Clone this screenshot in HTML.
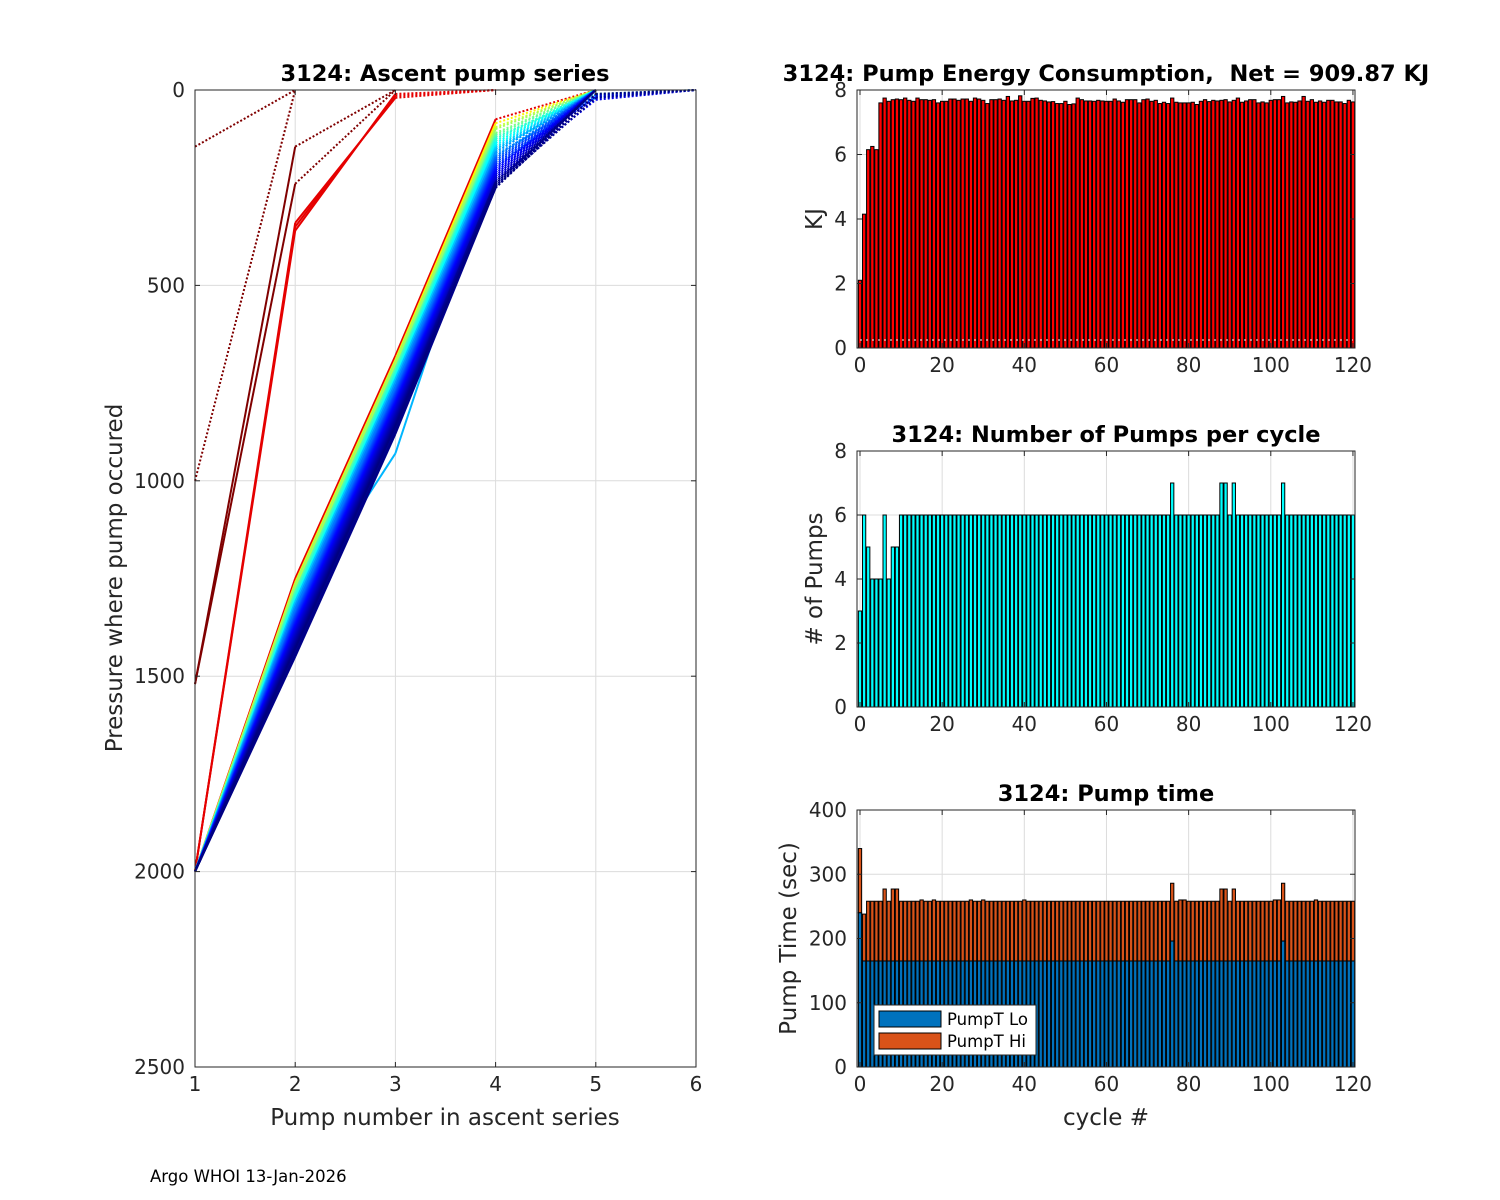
<!DOCTYPE html>
<html><head><meta charset="utf-8"><style>
html,body{margin:0;padding:0;background:#fff;}
svg{display:block;font-family:"DejaVu Sans","Liberation Sans",sans-serif;}
</style></head><body>
<svg id="fig" width="1500" height="1200" viewBox="0 0 1500 1200" xmlns="http://www.w3.org/2000/svg">
<rect x="0" y="0" width="1500" height="1200" fill="#fff"/>
<g id="left"></g><g id="energy"></g><g id="pumps"></g><g id="ptime"></g>
<text x="150" y="1182" font-size="16.5" fill="#000">Argo WHOI 13-Jan-2026</text>
</svg>
<script>
// ---------- data ----------
const earlyProfiles = [[145,0],[1000,0],[1520,145,0],[1520,240,0],[2000,340,20,0],[2000,360,10,0],[2000,350,15,0]];
const p2 = [1250,1260,1270,1265,1280,1290,1285,1300,1295,1310,1305,1320,1315,1330,1310,1325,1340,1335,1320,1345,1350,1330,1355,1340,1360,1345,1365,1350,1370,1355,1375,1360,1380,1365,1385,1370,1390,1375,1395,1380,1400,1385,1405,1390,1410,1395,1420,1400,1425,1405,1430,1410,1435,1415,1440,1420,1450,1425,1445,1430];
const p3 = [680,690,700,695,710,720,715,730,725,740,735,750,745,760,740,930,770,765,750,775,780,760,785,770,790,775,795,780,800,785,805,790,810,795,815,800,820,805,825,810,830,815,835,820,840,825,850,830,855,835,860,840,865,845,870,850,880,855,875,860];
const p4 = [75,85,95,100,110,115,120,130,125,140,135,150,145,160,150,155,170,165,160,175,180,170,185,175,190,180,195,185,200,190,205,195,210,200,215,205,220,210,225,215,230,220,235,225,240,230,245,235,250,240,245,235,250,240,245,235,250,245,240,250];
const p5 = [0,0,0,0,0,0,10,0,0,0,0,15,0,0,0,0,0,20,0,0,0,0,0,0,12,0,0,0,0,0,0,18,0,0,0,0,0,0,0,0,25,0,0,0,0,0,0,15,0,0,0,0,0,0,20,0,0,0,0,10];

const energy = [2.1,4.15,6.15,6.25,6.15,7.6,7.75,7.65,7.7,7.72,7.7,7.75,7.68,7.65,7.75,7.7,7.7,7.68,7.7,7.6,7.65,7.65,7.72,7.72,7.68,7.72,7.72,7.65,7.75,7.72,7.68,7.58,7.7,7.7,7.72,7.68,7.8,7.66,7.68,7.82,7.65,7.65,7.74,7.75,7.68,7.66,7.63,7.64,7.58,7.58,7.65,7.55,7.57,7.75,7.7,7.66,7.66,7.65,7.68,7.66,7.65,7.65,7.72,7.66,7.62,7.7,7.7,7.7,7.6,7.7,7.72,7.65,7.68,7.58,7.62,7.58,7.75,7.62,7.6,7.6,7.6,7.62,7.55,7.65,7.7,7.64,7.68,7.66,7.68,7.7,7.63,7.68,7.75,7.62,7.66,7.7,7.7,7.6,7.63,7.6,7.68,7.7,7.7,7.8,7.6,7.63,7.62,7.66,7.8,7.65,7.7,7.62,7.66,7.62,7.68,7.68,7.63,7.63,7.58,7.68,7.63];
const pumpCount = [3,6,5,4,4,4,6,4,5,5,6,6,6,6,6,6,6,6,6,6,6,6,6,6,6,6,6,6,6,6,6,6,6,6,6,6,6,6,6,6,6,6,6,6,6,6,6,6,6,6,6,6,6,6,6,6,6,6,6,6,6,6,6,6,6,6,6,6,6,6,6,6,6,6,6,6,7,6,6,6,6,6,6,6,6,6,6,6,7,7,6,7,6,6,6,6,6,6,6,6,6,6,6,7,6,6,6,6,6,6,6,6,6,6,6,6,6,6,6,6,6];
const timeLo = [240,165,165,165,165,165,165,165,165,165,165,165,165,165,165,165,165,165,165,165,165,165,165,165,165,165,165,165,165,165,165,165,165,165,165,165,165,165,165,165,165,165,165,165,165,165,165,165,165,165,165,165,165,165,165,165,165,165,165,165,165,165,165,165,165,165,165,165,165,165,165,165,165,165,165,165,196,165,165,165,165,165,165,165,165,165,165,165,165,165,165,165,165,165,165,165,165,165,165,165,165,165,165,196,165,165,165,165,165,165,165,165,165,165,165,165,165,165,165,165,165];
const timeTotal = [340,238,258,258,258,258,277,258,277,277,258,258,258,258,258,260,258,258,260,258,258,258,258,258,258,258,258,260,258,258,260,258,258,258,258,258,258,258,258,258,260,258,258,258,258,258,258,258,258,258,258,258,258,258,258,258,258,258,258,258,258,258,258,258,258,258,258,258,258,258,258,258,258,258,258,258,286,258,260,260,258,258,258,258,258,258,258,258,277,277,258,277,258,258,258,258,258,258,258,258,258,260,260,286,258,258,258,258,258,258,258,260,258,258,258,258,258,258,258,258,258];
const xTicksR = [0,20,40,60,80,100,120];

const NS="http://www.w3.org/2000/svg";
function mk(parent,tag,attrs,txt){const e=document.createElementNS(NS,tag);for(const k in attrs)e.setAttribute(k,attrs[k]);if(txt!==undefined)e.textContent=txt;parent.appendChild(e);return e;}
function jet(t){
  const r=Math.min(1,Math.max(0,1.5-Math.abs(4*t-3)));
  const g=Math.min(1,Math.max(0,1.5-Math.abs(4*t-2)));
  const b=Math.min(1,Math.max(0,1.5-Math.abs(4*t-1)));
  return `rgb(${Math.round(r*255)},${Math.round(g*255)},${Math.round(b*255)})`;
}
const FT=22.5, FTICK=20, FLAB=23;

// ---------- left plot ----------
(function(){
  const g=document.getElementById('left');
  const L=195,R=696,T=90,B=1067;
  const sx=v=>L+(v-1)/5*(R-L), sy=p=>T+p/2500*(B-T);
  for(const v of [2,3,4,5]){const e=mk(g,'line',{x1:sx(v),x2:sx(v),y1:T,y2:B,stroke:'#dcdcdc','stroke-width':1});
    }
  for(const p of [500,1000,1500,2000]){const e=mk(g,'line',{x1:L,x2:R,y1:sy(p),y2:sy(p),stroke:'#dcdcdc','stroke-width':1});
    }
  const drawProfile=(pr,col,thr)=>{
    const lg=mk(g,'g',{});
    
    
    for(let k=0;k<pr.length-1;k++){
      const dotted=pr[k+1]<thr;
      mk(lg,'line',{x1:sx(k+1),y1:sy(pr[k]),x2:sx(k+2),y2:sy(pr[k+1]),stroke:col,'stroke-width':2,'stroke-dasharray':dotted?'2,2':'none'});
    }
  };
  earlyProfiles.forEach((pr,i)=>{
    const t=i<4?1:0.9;
    drawProfile(pr,jet(t),5);
  });
  const m=p2.length;
  for(let k=0;k<m;k++){
    const pr=[2000,p2[k],p3[k],p4[k],p5[k]];if(p5[k]>0)pr.push(0);
    const f=k/(m-1);
    const t=0.9*(1-Math.pow(f,0.3));
    drawProfile(pr,jet(t),30);
  }
  mk(g,'rect',{x:L,y:T,width:R-L,height:B-T,fill:'none',stroke:'#262626','stroke-width':1});
  for(const v of [1,2,3,4,5,6]){
    mk(g,'line',{x1:sx(v),x2:sx(v),y1:B,y2:B-5,stroke:'#262626'});mk(g,'line',{x1:sx(v),x2:sx(v),y1:T,y2:T+5,stroke:'#262626'});
    const t=mk(g,'text',{x:sx(v),y:B+24,'text-anchor':'middle','font-size':FTICK,fill:'#262626'},String(v));
    
  }
  for(const p of [0,500,1000,1500,2000,2500]){
    mk(g,'line',{x1:L,x2:L+5,y1:sy(p),y2:sy(p),stroke:'#262626'});mk(g,'line',{x1:R,x2:R-5,y1:sy(p),y2:sy(p),stroke:'#262626'});
    const t=mk(g,'text',{x:L-10,y:sy(p)+7,'text-anchor':'end','font-size':FTICK,fill:'#262626'},String(p));
    
  }
  let t=mk(g,'text',{x:445,y:81,'text-anchor':'middle','font-size':FT,'font-weight':'bold',fill:'#000'},'3124: Ascent pump series');
  
  t=mk(g,'text',{x:445,y:1125,'text-anchor':'middle','font-size':FLAB,fill:'#262626'},'Pump number in ascent series');
  
  t=mk(g,'text',{x:0,y:0,'text-anchor':'middle','font-size':FLAB,fill:'#262626',transform:'translate(122,578) rotate(-90)'},'Pressure where pump occured');
  
})();

// ---------- right bar plots ----------
const RL=857,RR=1355;
const rx=v=>RL+(v+0.73)*((RR-RL)/121.23);
function frame(g,T,B,ymax,yticks){
  const sy=v=>B-v/ymax*(B-T);
  for(const v of xTicksR){const e=mk(g,'line',{x1:rx(v),x2:rx(v),y1:T,y2:B,stroke:'#dcdcdc'});
    }
  for(const v of yticks){const e=mk(g,'line',{x1:RL,x2:RR,y1:sy(v),y2:sy(v),stroke:'#dcdcdc'});
    }
  return sy;
}
function axes(g,T,B,ymax,yticks,title,ylab,ylabX,xlab){
  const sy=v=>B-v/ymax*(B-T);
  mk(g,'rect',{x:RL,y:T,width:RR-RL,height:B-T,fill:'none',stroke:'#262626'});
  for(const v of xTicksR){
    mk(g,'line',{x1:rx(v),x2:rx(v),y1:B,y2:B-5,stroke:'#262626'});mk(g,'line',{x1:rx(v),x2:rx(v),y1:T,y2:T+5,stroke:'#262626'});
    const t=mk(g,'text',{x:rx(v),y:B+24,'text-anchor':'middle','font-size':FTICK,fill:'#262626'},String(v));
    
  }
  for(const v of yticks){
    mk(g,'line',{x1:RL,x2:RL+5,y1:sy(v),y2:sy(v),stroke:'#262626'});mk(g,'line',{x1:RR,x2:RR-5,y1:sy(v),y2:sy(v),stroke:'#262626'});
    const t=mk(g,'text',{x:RL-10,y:sy(v)+7,'text-anchor':'end','font-size':FTICK,fill:'#262626'},String(v));
    
  }
  let t=mk(g,'text',{x:1106,y:T-9,'text-anchor':'middle','font-size':FT,'font-weight':'bold',fill:'#000',style:'white-space:pre'},title);
  
  const cy=(T+B)/2;
  t=mk(g,'text',{x:0,y:0,'text-anchor':'middle','font-size':FLAB,fill:'#262626',transform:`translate(${ylabX},${cy}) rotate(-90)`},ylab);
  
  if(xlab){t=mk(g,'text',{x:1106,y:B+58,'text-anchor':'middle','font-size':FLAB,fill:'#262626'},xlab);
    }
}
const BW=0.8*(RR-RL)/121.23;

(function(){
  const g=document.getElementById('energy');const T=90,B=348,ymax=8,yt=[0,2,4,6,8];
  const sy=frame(g,T,B,ymax,yt);
  energy.forEach((v,i)=>{
    const r=mk(g,'rect',{x:rx(i)-BW/2,y:sy(v),width:BW,height:sy(0)-sy(v),fill:'#ff0000',stroke:'#000','stroke-width':1});
    
  });
  const d=mk(g,'line',{x1:rx(0),x2:rx(120),y1:sy(0.25),y2:sy(0.25),stroke:'#fff','stroke-width':1,'stroke-dasharray':'2,4'});
  
  axes(g,T,B,ymax,yt,'3124: Pump Energy Consumption,  Net = 909.87 KJ','KJ',822);
})();

(function(){
  const g=document.getElementById('pumps');const T=451,B=707,ymax=8,yt=[0,2,4,6,8];
  const sy=frame(g,T,B,ymax,yt);
  pumpCount.forEach((v,i)=>{
    const r=mk(g,'rect',{x:rx(i)-BW/2,y:sy(v),width:BW,height:sy(0)-sy(v),fill:'#00ffff',stroke:'#000','stroke-width':1});
    
  });
  axes(g,T,B,ymax,yt,'3124: Number of Pumps per cycle','# of Pumps',822);
})();

(function(){
  const g=document.getElementById('ptime');const T=810,B=1067,ymax=400,yt=[0,100,200,300,400];
  const sy=frame(g,T,B,ymax,yt);
  timeLo.forEach((lo,i)=>{
    const tot=timeTotal[i];
    const h=mk(g,'rect',{x:rx(i)-BW/2,y:sy(tot),width:BW,height:sy(lo)-sy(tot),fill:'#d95319',stroke:'#000','stroke-width':1});
    
    const r=mk(g,'rect',{x:rx(i)-BW/2,y:sy(lo),width:BW,height:sy(0)-sy(lo),fill:'#0072bd',stroke:'#000','stroke-width':1});
    
  });
  axes(g,T,B,ymax,yt,'3124: Pump time','Pump Time (sec)',796,'cycle #');
  const lg=mk(g,'g',{});
  
  mk(lg,'rect',{x:874,y:1005,width:162,height:50,fill:'#fff',stroke:'#262626'});
  mk(lg,'rect',{x:879,y:1011,width:62,height:16,fill:'#0072bd',stroke:'#000'});
  mk(lg,'rect',{x:879,y:1033,width:62,height:16,fill:'#d95319',stroke:'#000'});
  let t=mk(lg,'text',{x:947,y:1025,'font-size':16.5,fill:'#000'},'PumpT Lo');
  
  t=mk(lg,'text',{x:947,y:1047,'font-size':16.5,fill:'#000'},'PumpT Hi');
  
})();
</script>
</body></html>
